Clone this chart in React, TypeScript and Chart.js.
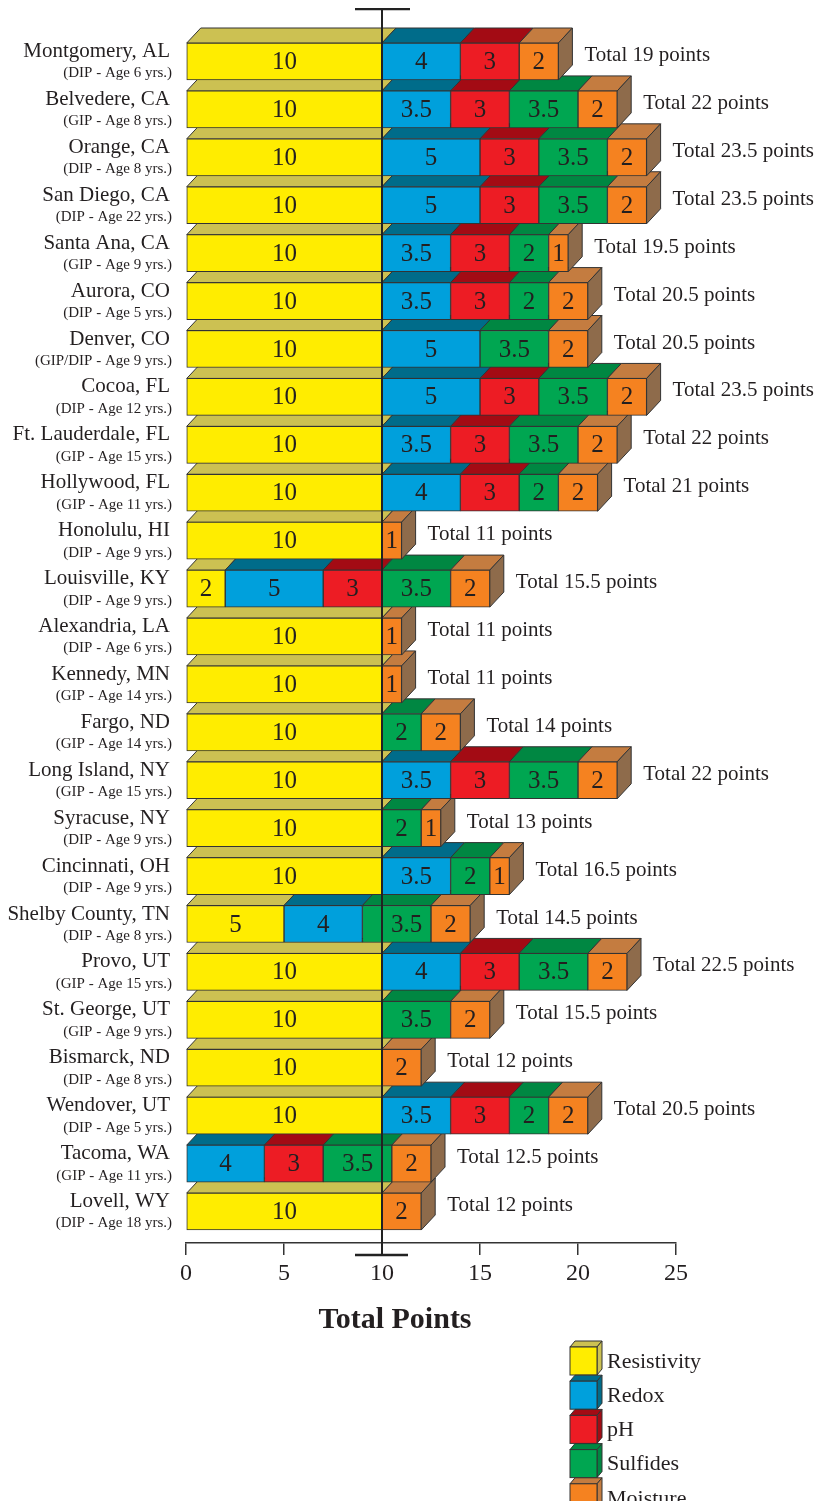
import React, { useEffect, useRef } from "react";
import { Chart, registerables } from "chart.js";
Chart.register(...registerables);

const cities = [
  "Montgomery, AL", "Belvedere, CA", "Orange, CA", "San Diego, CA", "Santa Ana, CA",
  "Aurora, CO", "Denver, CO", "Cocoa, FL", "Ft. Lauderdale, FL", "Hollywood, FL",
  "Honolulu, HI", "Louisville, KY", "Alexandria, LA", "Kennedy, MN", "Fargo, ND",
  "Long Island, NY", "Syracuse, NY", "Cincinnati, OH", "Shelby County, TN", "Provo, UT",
  "St. George, UT", "Bismarck, ND", "Wendover, UT", "Tacoma, WA", "Lovell, WY",
];
const details = [
  "(DIP - Age 6 yrs.)", "(GIP - Age 8 yrs.)", "(DIP - Age 8 yrs.)", "(DIP - Age 22 yrs.)", "(GIP - Age 9 yrs.)",
  "(DIP - Age 5 yrs.)", "(GIP/DIP - Age 9 yrs.)", "(DIP - Age 12 yrs.)", "(GIP - Age 15 yrs.)", "(GIP - Age 11 yrs.)",
  "(DIP - Age 9 yrs.)", "(DIP - Age 9 yrs.)", "(DIP - Age 6 yrs.)", "(GIP - Age 14 yrs.)", "(GIP - Age 14 yrs.)",
  "(GIP - Age 15 yrs.)", "(DIP - Age 9 yrs.)", "(DIP - Age 9 yrs.)", "(DIP - Age 8 yrs.)", "(GIP - Age 15 yrs.)",
  "(GIP - Age 9 yrs.)", "(DIP - Age 8 yrs.)", "(DIP - Age 5 yrs.)", "(GIP - Age 11 yrs.)", "(DIP - Age 18 yrs.)",
];
const resistivity = [10, 10, 10, 10, 10, 10, 10, 10, 10, 10, 10, 2, 10, 10, 10, 10, 10, 10, 5, 10, 10, 10, 10, 0, 10];
const redox       = [4, 3.5, 5, 5, 3.5, 3.5, 5, 5, 3.5, 4, 0, 5, 0, 0, 0, 3.5, 0, 3.5, 4, 4, 0, 0, 3.5, 4, 0];
const ph          = [3, 3, 3, 3, 3, 3, 0, 3, 3, 3, 0, 3, 0, 0, 0, 3, 0, 0, 0, 3, 0, 0, 3, 3, 0];
const sulfides    = [0, 3.5, 3.5, 3.5, 2, 2, 3.5, 3.5, 3.5, 2, 0, 3.5, 0, 0, 2, 3.5, 2, 2, 3.5, 3.5, 3.5, 0, 2, 3.5, 0];
const moisture    = [2, 2, 2, 2, 1, 2, 2, 2, 2, 2, 1, 2, 1, 1, 2, 2, 1, 1, 2, 2, 2, 2, 2, 2, 2];
const seriesNames = ["Resistivity", "Redox", "pH", "Sulfides", "Moisture"];
const seriesValues = [resistivity, redox, ph, sulfides, moisture];
const referenceValue = 10;
const axisTitle = "Total Points";

const frontColors = ["#FFED00", "#00A0DC", "#ED1C24", "#00A651", "#F58220"];
const topColors = ["#CCC152", "#006C8A", "#A30B14", "#008742", "#C47C40"];
const sideColors = ["#CCC152", "#006C8A", "#A30B14", "#008742", "#8E6B4B"];

const SERIF = '"Liberation Serif", "Times New Roman", serif';
const INK = "#231F20";
const EDGE = "#333333";
const DX = 14;
const DY = 15;

const fmt = (v: number) => (Number.isInteger(v) ? String(v) : v.toFixed(1));
const totals = cities.map((_, i) => seriesValues.reduce((s, arr) => s + arr[i], 0));

const facesPlugin = {
  id: "faces3d",
  beforeDatasetsDraw(chart: any) {
    const ctx = chart.ctx;
    ctx.save();
    ctx.lineWidth = 1;
    ctx.strokeStyle = EDGE;
    ctx.lineJoin = "miter";
    for (let i = cities.length - 1; i >= 0; i--) {
      let last: any = null;
      chart.data.datasets.forEach((ds: any, d: number) => {
        const v = ds.data[i].x;
        if (!v) return;
        const el = chart.getDatasetMeta(d).data[i];
        const { x, y, base, height } = el.getProps(["x", "y", "base", "height"], true);
        const top = y - height / 2;
        ctx.beginPath();
        ctx.moveTo(base, top);
        ctx.lineTo(base + DX, top - DY);
        ctx.lineTo(x + DX, top - DY);
        ctx.lineTo(x, top);
        ctx.closePath();
        ctx.fillStyle = topColors[d];
        ctx.fill();
        ctx.stroke();
        last = { x, top, bottom: y + height / 2, d };
      });
      if (last) {
        ctx.beginPath();
        ctx.moveTo(last.x, last.top);
        ctx.lineTo(last.x + DX, last.top - DY);
        ctx.lineTo(last.x + DX, last.bottom - DY);
        ctx.lineTo(last.x, last.bottom);
        ctx.closePath();
        ctx.fillStyle = sideColors[last.d];
        ctx.fill();
        ctx.stroke();
      }
    }
    ctx.restore();
  },
};

const overlayPlugin = {
  id: "overlay",
  afterDatasetsDraw(chart: any) {
    const { ctx, chartArea: ca } = chart;
    const xs = chart.scales.x;
    const ys = chart.scales.y;
    const px10 = xs.getPixelForValue(referenceValue);
    ctx.save();
    ctx.fillStyle = INK;

    // segment values
    ctx.textAlign = "center";
    ctx.textBaseline = "middle";
    ctx.font = `25px ${SERIF}`;
    chart.data.datasets.forEach((ds: any, d: number) => {
      chart.getDatasetMeta(d).data.forEach((el: any, i: number) => {
        const v = ds.data[i].x;
        if (!v) return;
        const { x, y, base } = el.getProps(["x", "y", "base"], true);
        let cx = (x + base) / 2;
        if (base < px10 && x > px10 && px10 - base < 0.35 * (x - base)) cx = (px10 + x) / 2;
        ctx.fillText(fmt(v), cx, y + 1);
      });
    });

    // totals
    ctx.textAlign = "left";
    ctx.font = `21px ${SERIF}`;
    totals.forEach((t, i) => {
      const xe = xs.getPixelForValue(t);
      ctx.fillText(`Total ${fmt(t)} points`, xe + DX + 12, ys.getPixelForValue(i) - 6);
    });

    // category labels
    ctx.textAlign = "right";
    cities.forEach((c, i) => {
      const y = ys.getPixelForValue(i);
      ctx.font = `21px ${SERIF}`;
      ctx.fillText(c, ca.left - 16, y - 10);
      ctx.font = `15px ${SERIF}`;
      ctx.fillText(details[i], ca.left - 14, y + 12);
    });

    // reference line with caps
    ctx.strokeStyle = "#222";
    ctx.lineWidth = 2;
    ctx.beginPath();
    ctx.moveTo(px10, ca.top);
    ctx.lineTo(px10, ca.bottom + 12);
    ctx.stroke();
    ctx.lineWidth = 2.5;
    ctx.beginPath();
    ctx.moveTo(px10 - 27, ca.top);
    ctx.lineTo(px10 + 28, ca.top);
    ctx.moveTo(px10 - 27, ca.bottom + 12);
    ctx.lineTo(px10 + 26, ca.bottom + 12);
    ctx.stroke();

    // axis title
    ctx.textAlign = "center";
    ctx.font = `bold 30px ${SERIF}`;
    ctx.fillText(axisTitle, ca.left + 209, ca.bottom + 77);

    // legend
    ctx.lineWidth = 1;
    ctx.strokeStyle = EDGE;
    ctx.textAlign = "left";
    ctx.font = `22px ${SERIF}`;
    seriesNames.forEach((name, d) => {
      const fx = ca.left + 384;
      const fy = ca.bottom + 104 + d * 34.2;
      const w = 27, h = 28, dx = 5, dy = 6;
      ctx.beginPath();
      ctx.moveTo(fx, fy);
      ctx.lineTo(fx + dx, fy - dy);
      ctx.lineTo(fx + w + dx, fy - dy);
      ctx.lineTo(fx + w, fy);
      ctx.closePath();
      ctx.fillStyle = topColors[d];
      ctx.fill();
      ctx.stroke();
      ctx.beginPath();
      ctx.moveTo(fx + w, fy);
      ctx.lineTo(fx + w + dx, fy - dy);
      ctx.lineTo(fx + w + dx, fy + h - dy);
      ctx.lineTo(fx + w, fy + h);
      ctx.closePath();
      ctx.fillStyle = topColors[d];
      ctx.fill();
      ctx.stroke();
      ctx.fillStyle = frontColors[d];
      ctx.fillRect(fx, fy, w, h);
      ctx.strokeRect(fx, fy, w, h);
      ctx.fillStyle = INK;
      ctx.fillText(name, fx + 37, fy + h / 2 + 1);
    });
    ctx.restore();
  },
};

export default function App() {
  const ref = useRef<HTMLCanvasElement>(null);
  useEffect(() => {
    const datasets = seriesNames.map((name, d) => ({
      label: name,
      data: seriesValues[d].map((v, i) => ({ x: v === 0 ? null : v, y: i })),
      backgroundColor: frontColors[d],
      borderColor: EDGE,
      borderWidth: 1,
      borderSkipped: false,
      barThickness: 37,
    }));
    const chart = new Chart(ref.current as HTMLCanvasElement, {
      type: "bar",
      data: { labels: cities, datasets } as any,
      options: {
        indexAxis: "y",
        responsive: false,
        animation: false,
        layout: { padding: { left: 178, right: 139, top: 1, bottom: 216 } },
        plugins: { legend: { display: false }, tooltip: { enabled: false } },
        scales: {
          x: {
            type: "linear",
            position: "bottom",
            min: 0,
            max: 25,
            stacked: true,
            offset: false,
            ticks: { stepSize: 5, font: { family: SERIF, size: 24 }, color: INK, padding: 4 },
            grid: { drawOnChartArea: false, drawTicks: true, tickLength: 12, color: EDGE, lineWidth: 1.5 },
            border: { display: true, color: EDGE, width: 1.5 },
            afterFit: (s: any) => {
              s.height = 50;
            },
          },
          y: {
            type: "linear",
            reverse: true,
            bounds: "data",
            offset: false,
            grace: 0,
            min: -1.0957,
            max: 24.657,
            stacked: true,
            display: false,
          },
        },
      } as any,
      plugins: [facesPlugin, overlayPlugin],
    });
    return () => chart.destroy();
  }, []);
  return (
    <canvas
      ref={ref}
      width={807}
      height={1501}
      style={{ display: "block", width: 807, height: 1501, marginBottom: -8 }}
    />
  );
}
